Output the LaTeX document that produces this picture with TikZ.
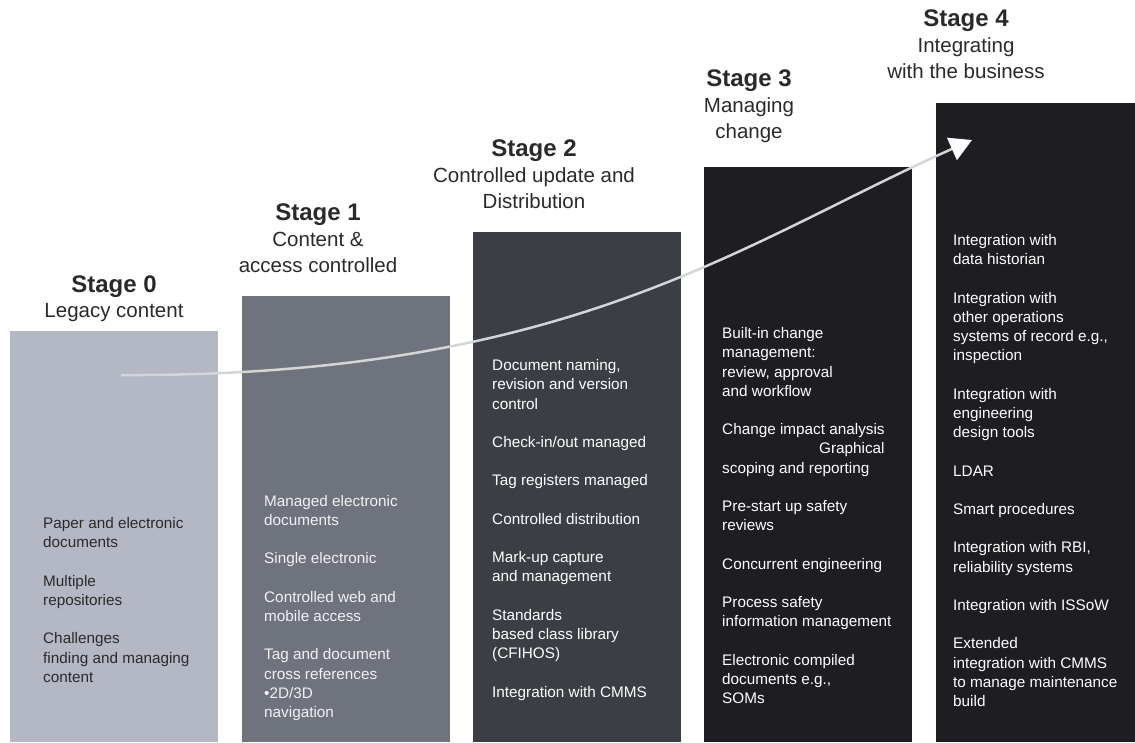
\documentclass[tikz,border=0pt]{standalone}
\usepackage{fontspec}
\setmainfont{Liberation Sans}
\usepackage{tikz}
\usetikzlibrary{arrows.meta}
\tikzset{>={Triangle[length=22pt,width=24pt,color=white,fill=white]}}
\definecolor{stagezero}{HTML}{B4B8C4}
\definecolor{stageone}{HTML}{6F737E}
\definecolor{stagetwo}{HTML}{3C3E45}
\definecolor{stagedark}{HTML}{1E1E22}
\definecolor{flowgrey}{HTML}{D3D6D6}
\definecolor{inkdark}{HTML}{2A2A2A}
\tikzset{
  stagetitle/.style={anchor=base, inner sep=0pt, text=inkdark, font=\fontsize{24}{28}\selectfont\bfseries},
  stagesub/.style={anchor=north, inner sep=0pt, align=center, text=inkdark, font=\fontsize{20.5}{26}\selectfont},
  itemlist/.style={anchor=north west, inner sep=0pt, align=left, font=\fontsize{15.3}{19.2}\selectfont},
  flow/.style={draw=flowgrey, line width=2.5pt}
}

\begin{document}
\begin{tikzpicture}[x=1pt,y=-1pt]
\newcommand\W{208}
\newcommand\B{742}
\newcommand\gap{\\[19.2pt]}
\useasboundingbox (0,0) rectangle (1135,742);

\begin{scope}[shift={(10,0)}]
\fill[stagezero] (0,331) rectangle (\W,\B);
\node[stagetitle] (stage0) at (104,292.6) {Stage 0};
\node[stagesub] (sub0) at (104,303.5) {Legacy content};
\node[itemlist, text=inkdark] (items0) at (33,517.5) {Paper and electronic\\documents\gap
Multiple\\repositories\gap
Challenges\\finding and managing\\content};
\end{scope}

\begin{scope}[shift={(242,0)}]
\fill[stageone] (0,296) rectangle (\W,\B);
\node[stagetitle] (stage1) at (76,220.6) {Stage 1};
\node[stagesub] (sub1) at (76,231.5) {Content \&\\access controlled};
\node[itemlist, text=white!95!black] (items1) at (22,495) {Managed electronic\\documents\gap
Single electronic\gap
Controlled web and\\mobile access\gap
Tag and document\\cross references\\•2D/3D\\navigation};
\end{scope}

\begin{scope}[shift={(473,0)}]
\fill[stagetwo] (0,232) rectangle (\W,\B);
\node[stagetitle] (stage2) at (61,156.6) {Stage 2};
\node[stagesub] (sub2) at (61,167.5) {Controlled update and\\Distribution};
\node[itemlist, text=white] (items2) at (19,359.5) {Document naming,\\revision and version\\control\gap
Check-in/out managed\gap
Tag registers managed\gap
Controlled distribution\gap
Mark-up capture\\and management\gap
Standards\\based class library\\(CFIHOS)\gap
Integration with CMMS};
\end{scope}

\begin{scope}[shift={(704,0)}]
\fill[stagedark] (0,167) rectangle (\W,\B);
\node[stagetitle] (stage3) at (45,86.6) {Stage 3};
\node[stagesub] (sub3) at (45,97.5) {Managing\\change};
\node[itemlist, text=white] (items3) at (18,327.5) {Built-in change\\management:\\review, approval\\and workflow\gap
Change impact analysis\\\hphantom{Change impact analysis}\llap{Graphical}\\scoping and reporting\gap
Pre-start up safety\\reviews\gap
Concurrent engineering\gap
Process safety\\information management\gap
Electronic compiled\\documents e.g.,\\SOMs};
\end{scope}

\begin{scope}[shift={(936,0)}]
\fill[stagedark] (0,103) rectangle (199,\B);
\node[stagetitle] (stage4) at (30,26.6) {Stage 4};
\node[stagesub] (sub4) at (30,37.5) {Integrating\\with the business};
\node[itemlist, text=white] (items4) at (17,234.5) {Integration with\\data historian\gap
Integration with\\other operations\\systems of record e.g.,\\inspection\gap
Integration with\\engineering\\design tools\gap
LDAR\gap
Smart procedures\gap
Integration with RBI,\\reliability systems\gap
Integration with ISSoW\gap
Extended\\integration with CMMS\\to manage maintenance\\build};
\end{scope}

\coordinate (flowstart) at (121,375);
\coordinate (flowend) at (972,140);
\draw[flow,->] (flowstart) .. controls (571,377) and (743,242) .. (flowend);

\end{tikzpicture}
\end{document}
